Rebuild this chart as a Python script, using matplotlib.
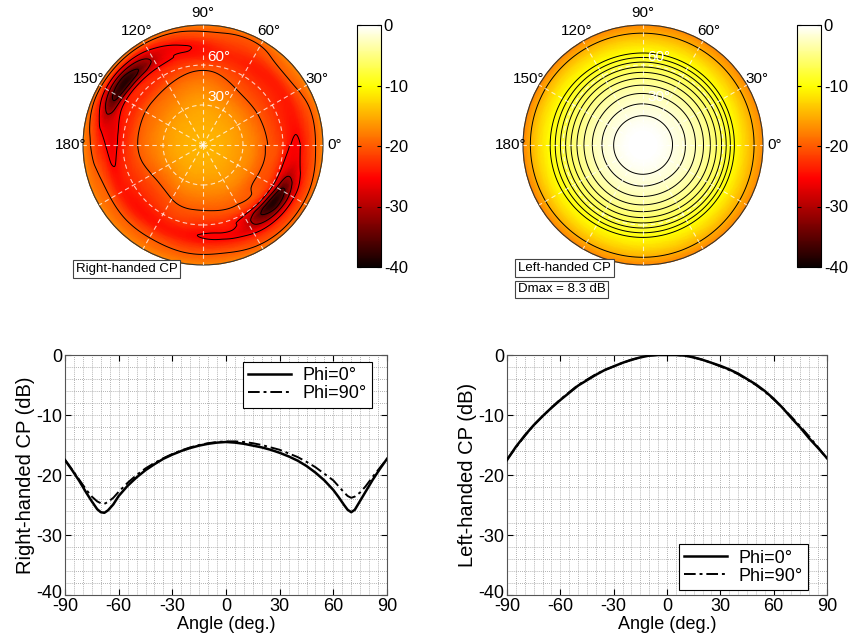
import numpy as np
import matplotlib
matplotlib.use("Agg")
import matplotlib.pyplot as plt
import matplotlib.tri as mtri
import matplotlib.transforms as mtransforms
from matplotlib.patches import Circle
from matplotlib.colors import Normalize
from matplotlib.cm import ScalarMappable

plt.rcParams['font.family'] = ['Liberation Sans', 'DejaVu Sans']
plt.rcParams['axes.unicode_minus'] = False

# ---------------- pattern cuts (dB) ----------------
ANGLE_RH = [-90, -86, -82, -78, -75, -72, -70, -68, -66, -63, -60, -55, -50, -45, -40, -35, -30, -25,
            -20, -15, -10, -5, 0, 5, 10, 15, 20, 25, 30, 35, 40, 45, 50, 55, 60, 63, 66, 68, 70,
            72, 75, 78, 82, 86, 90]
RHCP_PHI0 = [-17.5, -19.2, -21.0, -23.0, -24.4, -25.7, -26.2, -26.3, -25.9, -24.9, -23.5, -21.8, -20.4,
             -19.2, -18.2, -17.3, -16.6, -16.0, -15.5, -15.1, -14.8, -14.6, -14.5, -14.6, -14.8, -15.1,
             -15.4, -15.8, -16.3, -16.9, -17.6, -18.5, -19.6, -20.9, -22.5, -23.7, -25.0, -25.8, -26.2,
             -25.8, -24.3, -22.8, -20.8, -19.0, -17.3]
RHCP_PHI90 = [-17.5, -19.1, -20.8, -22.5, -23.6, -24.4, -24.7, -24.8, -24.5, -23.8, -22.8, -21.3, -20.0,
              -18.9, -18.0, -17.2, -16.5, -15.9, -15.4, -15.0, -14.7, -14.5, -14.4, -14.4, -14.5, -14.7,
              -15.0, -15.4, -15.8, -16.4, -17.0, -17.8, -18.7, -19.8, -20.9, -21.9, -22.9, -23.5, -23.8,
              -23.6, -22.9, -21.9, -20.3, -18.8, -17.3]

ANGLE_LH = [-90, -85, -80, -75, -70, -65, -60, -55, -50, -45, -40, -35, -30, -25, -20, -15, -10, -5, 0,
            5, 10, 15, 20, 25, 30, 35, 40, 45, 50, 55, 60, 65, 70, 75, 80, 85, 90]
LHCP_PHI0 = [-17.5, -15.3, -13.4, -11.7, -10.2, -8.8, -7.5, -6.3, -5.1, -4.2, -3.3, -2.5, -1.9, -1.3,
             -0.8, -0.4, -0.1, 0.0, 0.0, 0.0, -0.1, -0.4, -0.8, -1.3, -1.8, -2.4, -3.1, -4.0, -4.9,
             -6.0, -7.3, -8.8, -10.5, -12.1, -13.9, -15.5, -17.2]
LHCP_PHI90 = [-17.4, -15.4, -13.5, -11.7, -10.2, -8.8, -7.4, -6.2, -5.0, -4.1, -3.2, -2.5, -1.9, -1.3,
              -0.8, -0.4, -0.1, 0.0, 0.0, 0.0, -0.1, -0.4, -0.8, -1.3, -1.9, -2.5, -3.2, -4.1, -5.0,
              -6.1, -7.4, -8.8, -10.3, -11.9, -13.6, -15.4, -17.3]

# ---------------- radiation maps (dB), rows = theta, columns = phi ----------------
RH_CENTER = -14.5
RH_THETA = [15, 30, 40, 50, 60, 67, 74, 81, 86, 90]
RH_PHI = [0, 20, 40, 60, 80, 100, 120, 140, 160, 180, 200, 220, 240, 260, 280, 300, 320, 340]
RH_MAP = [
    [-15.0, -15.0, -15.0, -15.0, -15.0, -15.0, -15.0, -15.0, -15.0, -15.0, -15.0, -15.0, -15.0, -15.0, -15.0, -15.0, -15.0, -15.0],
    [-16.5, -16.6, -16.5, -16.3, -15.9, -15.8, -16.1, -16.3, -16.4, -16.6, -16.7, -17.0, -16.6, -16.5, -16.4, -16.2, -16.4, -16.5],
    [-18.0, -18.3, -18.4, -18.0, -17.2, -17.0, -17.6, -18.0, -18.2, -18.2, -18.8, -19.3, -18.6, -18.2, -18.0, -17.8, -18.0, -18.1],
    [-20.3, -20.6, -20.6, -20.2, -19.0, -18.7, -19.5, -20.0, -20.2, -20.3, -20.8, -21.3, -20.6, -20.2, -20.0, -19.7, -20.2, -20.4],
    [-22.6, -22.8, -22.5, -22.1, -21.2, -21.3, -22.5, -23.0, -23.2, -23.4, -22.8, -23.3, -22.6, -22.4, -23.0, -23.8, -24.6, -24.0],
    [-25.4, -24.0, -23.6, -23.5, -23.2, -24.0, -24.8, -25.5, -25.5, -26.0, -24.3, -24.5, -24.3, -24.5, -25.0, -28.5, -38.0, -29.5],
    [-24.6, -23.5, -23.2, -23.0, -23.0, -25.2, -29.0, -38.0, -31.0, -24.6, -22.8, -22.8, -22.5, -23.0, -24.0, -27.0, -32.0, -27.5],
    [-21.4, -21.0, -20.0, -21.0, -21.0, -22.5, -26.0, -31.0, -26.5, -21.5, -19.8, -19.8, -19.8, -20.2, -20.5, -22.0, -23.0, -22.5],
    [-19.3, -19.5, -18.8, -20.0, -19.8, -20.2, -21.5, -22.5, -21.5, -19.3, -18.8, -18.6, -18.6, -18.8, -19.0, -20.0, -20.5, -20.2],
    [-17.3, -17.5, -17.3, -17.8, -17.8, -18.0, -18.0, -18.0, -18.0, -17.5, -17.2, -17.2, -17.2, -17.3, -17.5, -17.8, -18.0, -17.8],
]
RH_LEVELS = [-35, -30, -25, -20]

LH_CENTER = 0.0
LH_THETA = [10, 20, 30, 40, 50, 60, 70, 80, 90]
LH_PHI = [0, 30, 60, 90, 120, 150, 180, 210, 240, 270, 300, 330]
LH_MAP = [
    [-0.1, -0.1, -0.1, -0.1, -0.1, -0.1, -0.1, -0.1, -0.1, -0.1, -0.1, -0.1],
    [-0.8, -0.8, -0.8, -0.8, -0.8, -0.8, -0.8, -0.8, -0.8, -0.8, -0.8, -0.8],
    [-1.8, -1.8, -1.9, -1.9, -1.9, -1.9, -1.9, -1.9, -1.9, -1.9, -1.9, -1.8],
    [-3.1, -3.1, -3.2, -3.2, -3.2, -3.3, -3.3, -3.3, -3.2, -3.2, -3.2, -3.1],
    [-4.9, -4.9, -5.0, -5.0, -5.0, -5.1, -5.1, -5.1, -5.0, -5.0, -5.0, -4.9],
    [-7.3, -7.3, -7.4, -7.4, -7.4, -7.5, -7.5, -7.5, -7.4, -7.4, -7.4, -7.3],
    [-10.5, -10.4, -10.3, -10.3, -10.2, -10.1, -10.1, -10.1, -10.2, -10.2, -10.3, -10.4],
    [-13.9, -13.8, -13.7, -13.6, -13.4, -13.2, -13.2, -13.3, -13.4, -13.4, -13.6, -13.8],
    [-17.2, -17.2, -17.3, -17.3, -17.4, -17.5, -17.5, -17.5, -17.4, -17.4, -17.3, -17.2],
]
LH_LEVELS = [-15, -10, -9, -8, -7, -6, -5, -4, -3, -2, -1]

CB_TICKS = [-40, -30, -20, -10, 0]
DIR_LABELS = [0, 30, 60, 90, 120, 150, 180]
RING_LABELS = [30, 60]

FIG_W, FIG_H = 850, 642


def px_rect(x0, y0, x1, y1):
    """Figure-fraction rectangle from pixel box (origin top-left)."""
    return [x0 / FIG_W, 1 - y1 / FIG_H, (x1 - x0) / FIG_W, (y1 - y0) / FIG_H]


def map_triangulation(theta_nodes, phi_nodes, table, center, subdiv=4):
    """Smooth (theta, phi) map as a triangulation in the polar plane."""
    k = 60.0
    th = np.concatenate([[0.0], np.asarray(theta_nodes, float)])
    ph = np.asarray(phi_nodes, float)
    tab = np.asarray(table, float)
    step = ph[1] - ph[0]
    ph_ext = np.concatenate([[ph[0] - step], ph, [ph[-1] + step, ph[-1] + 2 * step]])
    tab_ext = np.column_stack([tab[:, -1], tab, tab[:, 0], tab[:, 1]])
    tab_ext = np.vstack([np.full(len(ph_ext), center), tab_ext])
    P, T = np.meshgrid(np.radians(ph_ext) * k, th)
    ni, nj = T.shape
    idx = np.arange(ni * nj).reshape(ni, nj)
    tris = []
    for i in range(ni - 1):
        for j in range(nj - 1):
            a, b, c, d = idx[i, j], idx[i, j + 1], idx[i + 1, j], idx[i + 1, j + 1]
            tris.append([a, b, d])
            tris.append([a, d, c])
    tri = mtri.Triangulation(P.ravel(), T.ravel(), np.array(tris))
    tri_r, z_r = mtri.UniformTriRefiner(tri).refine_field(tab_ext.ravel(), subdiv=subdiv)
    phi_r = tri_r.x / k
    cu = phi_r[tri_r.triangles].mean(axis=1)
    mask = (cu < 0) | (cu > 2 * np.pi)
    X = tri_r.y * np.cos(phi_r)
    Y = tri_r.y * np.sin(phi_r)
    return mtri.Triangulation(X, Y, tri_r.triangles, mask=mask), z_r


def polar_map(ax, theta_nodes, phi_nodes, table, center, levels):
    tri, z = map_triangulation(theta_nodes, phi_nodes, table, center)
    ax.tripcolor(tri, z, shading='gouraud', cmap='hot', vmin=-40, vmax=0)
    ax.tricontour(tri, z, levels=levels, colors='k', linewidths=0.7, linestyles='solid')
    dash = (0, (4, 3))
    for r in RING_LABELS:
        ax.add_patch(Circle((0, 0), r, fill=False, ec='white', lw=0.8, ls=dash, alpha=0.75))
    for a in range(0, 360, 30):
        t = np.radians(a)
        ax.plot([0, 90 * np.cos(t)], [0, 90 * np.sin(t)], color='white', lw=0.8, ls=dash, alpha=0.75)
    ax.add_patch(Circle((0, 0), 90, fill=False, ec='#333333', lw=0.8, clip_on=False))
    for a in DIR_LABELS:
        t = np.radians(a)
        ax.text(99 * np.cos(t), 99 * np.sin(t), f'{a}°', ha='center', va='center',
                fontsize=11, clip_on=False)
    for r in RING_LABELS:
        ax.text(3, r + 1, f'{r}°', color='white', fontsize=11, ha='left', va='bottom')
    ax.set_xlim(-90, 90)
    ax.set_ylim(-90, 90)
    ax.set_aspect('equal')
    ax.axis('off')


def colorbar(fig, rect):
    cax = fig.add_axes(rect)
    cb = fig.colorbar(ScalarMappable(norm=Normalize(-40, 0), cmap='hot'), cax=cax, ticks=CB_TICKS)
    cb.ax.set_yticklabels([str(v) for v in CB_TICKS])
    cb.ax.tick_params(direction='in', left=True, right=True, length=3, labelsize=12, pad=2)
    cb.outline.set_linewidth(0.8)
    return cb


def cut_axes(fig, ax, x, y0, y90, ylabel, legend_loc, anchor):
    dashdot = (0, (6, 2, 1.5, 2))
    ax.plot(x, y90, color='k', ls=dashdot, lw=1.4, label='Phi=90°', zorder=3)
    ax.plot(x, y0, color='k', ls='-', lw=1.8, label='Phi=0°', zorder=4)
    ax.set_xlim(-90, 90)
    ax.set_ylim(-40, 0)
    ax.set_xticks(range(-90, 91, 30))
    ax.set_yticks(range(-40, 1, 10))
    ax.set_xticks(range(-90, 91, 5), minor=True)
    ax.set_yticks(range(-40, 1, 2), minor=True)
    ax.grid(which='both', color='#999999', lw=0.6, ls=(0, (1, 1.5)))
    ax.tick_params(which='major', direction='in', top=True, right=True, length=4,
                   labelsize=13, pad=2)
    ax.tick_params(which='minor', length=0)
    for s in ax.spines.values():
        s.set_color('#555555')
        s.set_linewidth(0.8)
    ax.set_xlabel('Angle (deg.)', fontsize=13, labelpad=1)
    ax.set_ylabel(ylabel, fontsize=14.5, labelpad=1)
    # lift the bottom y label a little so it clears the x tick labels
    fig.canvas.draw()
    lab = ax.get_yticklabels()[0]
    lab.set_transform(lab.get_transform() + mtransforms.ScaledTranslation(0, 4 / 100, fig.dpi_scale_trans))
    handles, labels = ax.get_legend_handles_labels()
    order = [labels.index('Phi=0°'), labels.index('Phi=90°')]
    leg = ax.legend([handles[i] for i in order], [labels[i] for i in order],
                    loc=legend_loc, bbox_to_anchor=anchor, fontsize=13, frameon=True,
                    fancybox=False, edgecolor='k', framealpha=1, borderaxespad=0,
                    handlelength=2.4, labelspacing=0.05, borderpad=0.3, handletextpad=0.6)
    leg.get_frame().set_linewidth(0.8)


fig = plt.figure(figsize=(FIG_W / 100, FIG_H / 100), dpi=100)

ax1 = fig.add_axes(px_rect(83, 25, 323, 265))
polar_map(ax1, RH_THETA, RH_PHI, RH_MAP, RH_CENTER, RH_LEVELS)
colorbar(fig, px_rect(357, 25, 381, 267))

ax2 = fig.add_axes(px_rect(523, 25, 763, 265))
polar_map(ax2, LH_THETA, LH_PHI, LH_MAP, LH_CENTER, LH_LEVELS)
colorbar(fig, px_rect(797, 25, 821, 267))

box = dict(boxstyle='square,pad=0.2', fc='white', ec='#444444', lw=0.8)
fig.text(76 / FIG_W, 1 - 269 / FIG_H, 'Right-handed CP', fontsize=9.5, ha='left', va='center', bbox=box)
fig.text(518 / FIG_W, 1 - 268 / FIG_H, 'Left-handed CP', fontsize=9.5, ha='left', va='center', bbox=box)
fig.text(518 / FIG_W, 1 - 289.5 / FIG_H, 'Dmax = 8.3 dB', fontsize=9.5, ha='left', va='center', bbox=box)

ax3 = fig.add_axes(px_rect(65, 355, 387, 595))
cut_axes(fig, ax3, ANGLE_RH, RHCP_PHI0, RHCP_PHI90, 'Right-handed CP (dB)',
         'upper right', (0.953, 0.971))

ax4 = fig.add_axes(px_rect(507, 355, 827, 595))
cut_axes(fig, ax4, ANGLE_LH, LHCP_PHI0, LHCP_PHI90, 'Left-handed CP (dB)',
         'lower right', (0.94, 0.021))

fig.savefig('out.png', dpi=100)
